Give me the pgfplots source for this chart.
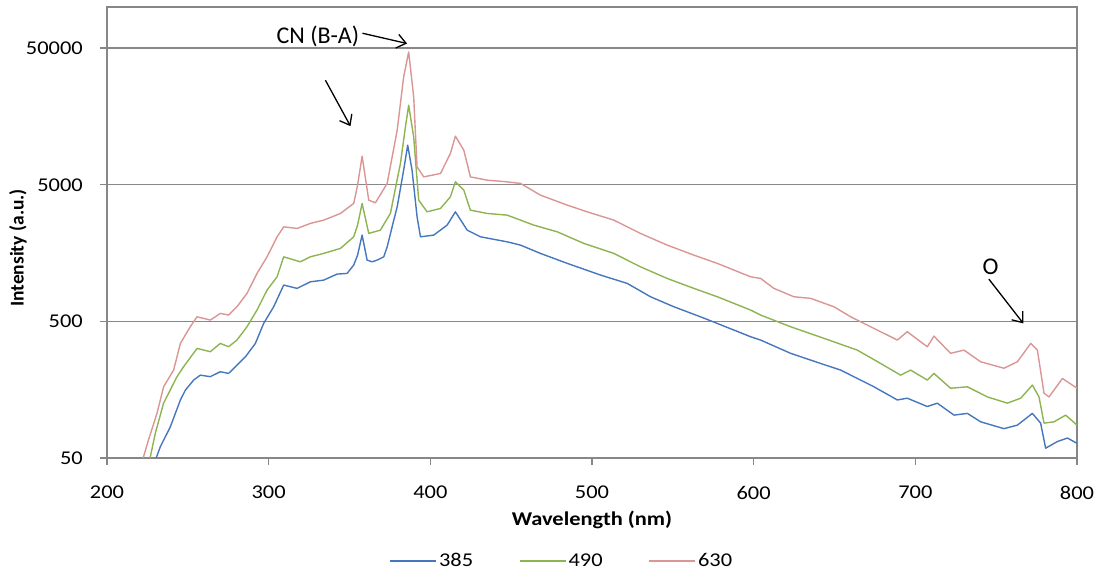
\documentclass[border=0pt]{standalone}
\usepackage{pgfplots}
\pgfplotsset{compat=1.18}
\usepackage{pgfplotstable}
\usepackage{fontspec}
\setmainfont{Carlito}[FakeStretch=1.15]
\newfontfamily\plain{Carlito}
\usetikzlibrary{arrows.meta}
\definecolor{cblue}{HTML}{4677BE}
\definecolor{cgreen}{HTML}{8DB451}
\definecolor{cred}{HTML}{D99694}
\definecolor{axgray}{HTML}{878787}

\pgfplotstableread{
x y
229.0 45
233.0 60.5
239.2 84.7
245.4 133
248.5 157
253.6 186
257.7 202
263.9 197
270.1 214
275.2 208
280.4 239
285.6 275
291.8 345
296.9 483
303.1 640
309.3 922
317.6 872
325.8 974
334.0 1002
342.3 1109
348.5 1122
352.6 1291
355.0 1527
357.8 2140
360.9 1404
364.0 1364
367.1 1404
371.2 1484
373.3 1757
377.4 2754
379.5 3446
383.5 6394
386.0 9744
388.7 6394
391.8 2912
393.9 2079
402.1 2140
410.4 2532
415.5 3168
422.8 2327
431.0 2079
447.5 1911
455.8 1808
468.1 1572
484.7 1329
505.3 1091
521.8 948
536.2 757
550.6 640
567.1 540
577.5 483
598.1 386
604.3 365
622.8 292
641.4 246
653.8 220
674.4 166
688.9 133
695.0 137
707.4 119
713.6 126
723.9 103
732.2 106
740.4 92
754.8 82
763.1 87
772.4 106
777.5 90
780.6 59
787.9 66
794.1 70
800.0 64
}\bluedata

\pgfplotstableread{
x y
224.9 44
226.8 51
229.9 76
235.0 126
243.3 197
247.4 233
255.7 317
263.9 300
270.1 345
275.2 326
280.4 365
286.6 457
292.8 605
299.0 847
305.2 1060
309.3 1484
319.6 1364
325.8 1484
334.0 1572
344.4 1710
352.6 2079
355.0 2532
357.8 3650
361.9 2201
369.1 2327
375.3 3083
381.5 7159
384.6 13265
386.6 19110
389.7 11202
392.8 3858
398.0 3168
406.3 3354
412.4 4078
415.5 5250
420.7 4566
424.8 3260
435.1 3083
447.5 2997
455.8 2754
464.0 2532
478.5 2262
494.9 1861
513.5 1572
530.0 1254
546.5 1031
563.0 872
577.5 757
598.1 605
604.3 556
622.8 457
643.4 376
664.1 308
678.5 246
690.9 202
697.1 220
707.4 186
711.5 208
721.8 162
732.2 166
744.6 140
756.9 126
765.2 137
772.4 171
776.5 140
779.6 90
785.8 92
793.0 103
800.0 87
}\greendata

\pgfplotstableread{
x y
220.6 44
222.6 51
225.7 68
230.9 106
235.0 166
241.2 220
245.4 345
251.5 457
255.7 540
263.9 511
270.1 572
275.2 556
280.4 640
286.6 801
292.8 1122
299.0 1484
305.2 2079
309.3 2460
317.6 2394
325.8 2606
334.0 2754
344.4 3083
352.6 3650
355.0 4966
357.8 8093
361.9 3858
366.0 3687
373.3 5110
379.5 12542
383.5 30780
386.6 46895
389.7 21976
391.8 6761
395.9 5709
406.3 6048
412.4 8472
415.5 11336
420.7 8953
424.8 5709
435.1 5403
447.5 5250
455.8 5110
468.1 4196
484.7 3547
497.0 3168
513.5 2754
530.0 2201
546.5 1808
563.0 1527
577.5 1329
598.1 1060
604.3 1031
612.5 872
624.9 757
635.2 737
649.6 640
660.0 540
674.4 444
688.9 365
695.0 420
707.4 326
711.5 390
721.8 292
730.1 308
740.4 253
754.8 227
763.1 253
771.4 345
775.5 308
779.6 149
782.7 140
791.0 191
800.0 162
}\reddata

\begin{document}
\begin{tikzpicture}
\path[use as bounding box] (0pt,0pt) rectangle (1100pt,571pt);
\begin{axis}[
  at={(107pt,113pt)}, anchor=south west,
  scale only axis, width=970pt, height=451pt,
  xmin=200, xmax=800, ymode=log, ymin=50, ymax=100000,
  xtick={200,300,400,500,600,700,800},
  xticklabels={200,300,400,500,600,700,800},
  ytick={50,500,5000,50000},
  yticklabels={50,500,5000,50000},
  yminorticks=false, xminorticks=false,
  tick pos=left, tick align=outside,
  major tick length=7pt,
  tick style={axgray, line width=1.3pt},
  axis line style={axgray, line width=1.3pt},
  ymajorgrids=true,
  grid style={axgray, line width=1.3pt},
  tick label style={font=\fontsize{19.5}{23}\selectfont, inner sep=0pt},
  yticklabel style={xshift=-17pt},
  xticklabel style={yshift=-21pt},
  xlabel={Wavelength (nm)},
  xlabel style={at={(axis description cs:0.5,0)}, anchor=base, yshift=-67pt, inner sep=0pt, font=\bfseries\fontsize{19.5}{23}\selectfont},
  legend style={at={(axis description cs:0.469,-0.2284)}, anchor=center, draw=none, fill=none,
    legend columns=3, font=\fontsize{19.5}{23}\selectfont,
    /tikz/every even column/.append style={column sep=44pt},
    nodes={inner sep=2pt}},
  legend image code/.code={\draw[#1] (0pt,0pt) -- (46pt,0pt);},
  every axis plot/.append style={line width=1.4pt, line join=round},
  after end axis/.code={
    \node[rotate=90, inner sep=0pt, font=\plain\bfseries\fontsize{19.5}{23}\selectfont] at (axis description cs:-0.0918,0.4656) {Intensity (a.u.)};
  },
]
\addplot[cblue] table[x=x,y=y] {\bluedata};
\addlegendentry{385}
\addplot[cgreen] table[x=x,y=y] {\greendata};
\addlegendentry{490}
\addplot[cred] table[x=x,y=y] {\reddata};
\addlegendentry{630}

\node[font=\plain\fontsize{24}{28}\selectfont, inner sep=0pt] at (axis cs:330.4,61000) {CN (B-A)};
\draw[line width=1.3pt, -{Straight Barb[length=9pt,width=14pt]}] (axis cs:358,64270) -- (axis cs:385.6,54040);
\draw[line width=1.3pt, -{Straight Barb[length=9pt,width=14pt]}] (axis cs:335.1,29120) -- (axis cs:350.6,13420);
\node[font=\plain\fontsize{24}{28}\selectfont, inner sep=0pt] at (axis cs:746.6,1254) {O};
\draw[line width=1.3pt, -{Straight Barb[length=9pt,width=14pt]}] (axis cs:745.5,1019) -- (axis cs:766.8,483);
\end{axis}
\end{tikzpicture}
\end{document}
